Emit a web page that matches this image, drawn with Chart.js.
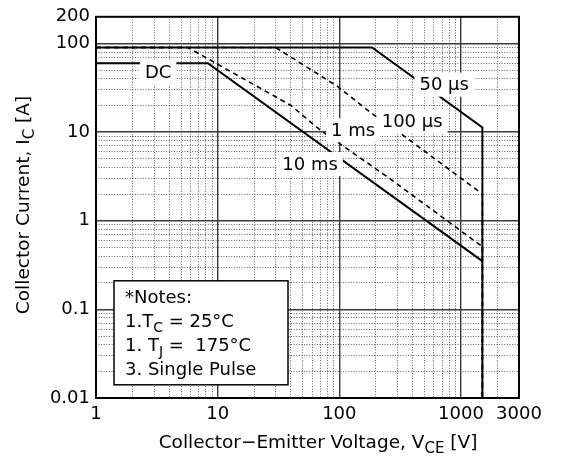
<!DOCTYPE html>
<html>
<head>
<meta charset="utf-8">
<script src="https://cdn.jsdelivr.net/npm/chart.js@4.4.0/dist/chart.umd.min.js"></script>
<style>
  html, body { margin: 0; padding: 0; background: #fff; }
</style>
</head>
<body>
<canvas id="soa" width="562" height="459"></canvas>
<script>
const FONT = '"DejaVu Sans", "Liberation Sans", Arial, sans-serif';
const FS = 18;

// tick labels
const xLabels = [1, 10, 100, 1000, 3000];
const yLabels = [0.01, 0.1, 1, 10, 100, 200];

// curves: V_CE [V] / I_C [A]
const dcV = [1, 8.3, 1500];
const dcI = [60, 60, 0.35];
const ms1V = [1, 5.7, 40, 70, 262, 1500, 1500];
const ms1I = [90, 90, 20, 10.5, 2.97, 0.51, 0.01];
const us100V = [1, 30, 96, 180, 335, 1500, 1500];
const us100I = [90, 90, 33, 16.7, 9.2, 2.0, 0.01];
const us50V = [1, 186, 1500, 1500];
const us50I = [90, 90, 11.3, 0.01];

// curve labels, anchored in data units
const curveText = ['DC', '10 ms', '1 ms', '100 \u03bcs', '50 \u03bcs'];
const curveV = [3.24, 57.5, 130, 397, 728];
const curveI = [46.7, 4.36, 10.5, 13.2, 34.3];

// grid positions for log decades (1..9 x 10^e)
function logGrid(lo, hi, extra) {
  const out = [];
  for (let e = lo; e < hi; e++)
    for (let m = 1; m < 10; m++) out.push(+(m * Math.pow(10, e)).toPrecision(3));
  return out.concat(extra);
}
const xGrid = logGrid(0, 3, [1000, 2000, 3000]);
const yGrid = logGrid(-2, 2, [100, 200]);

const isMajor = v => Math.abs(Math.log10(v) - Math.round(Math.log10(v))) < 1e-9;

function pts(xs, ys) { return xs.map((x, i) => ({ x: x, y: ys[i] })); }

// text with subscripts: parts = [[text, isSub], ...]
function richWidth(ctx, parts, size) {
  let w = 0;
  for (const [t, sub] of parts) {
    ctx.font = (sub ? Math.round(size * 0.8) : size) + 'px ' + FONT;
    w += ctx.measureText(t).width;
  }
  return w;
}
function drawRich(ctx, parts, x, y, size) {
  ctx.textAlign = 'left';
  ctx.textBaseline = 'alphabetic';
  for (const [t, sub] of parts) {
    ctx.font = (sub ? Math.round(size * 0.8) : size) + 'px ' + FONT;
    ctx.fillText(t, x, sub ? y + size * 0.28 : y);
    x += ctx.measureText(t).width;
  }
}

const decor = {
  id: 'decor',
  afterDatasetsDraw(chart) {
    const ctx = chart.ctx;
    const ca = chart.chartArea;
    const xs = chart.scales.x, ys = chart.scales.y;
    ctx.save();

    // curve labels on white boxes
    ctx.font = FS + 'px ' + FONT;
    ctx.textAlign = 'center';
    ctx.textBaseline = 'middle';
    curveText.forEach((t, i) => {
      const px = xs.getPixelForValue(curveV[i]);
      const py = ys.getPixelForValue(curveI[i]);
      const w = ctx.measureText(t).width;
      ctx.fillStyle = '#fff';
      ctx.fillRect(px - w / 2 - 5, py - 12, w + 10, 24);
      ctx.fillStyle = '#000';
      ctx.fillText(t, px, py + 1);
    });

    // notes box
    const bx = ca.left + 18, by = ca.top + 264, bw = 174, bh = 104;
    ctx.fillStyle = '#fff';
    ctx.fillRect(bx, by, bw, bh);
    ctx.strokeStyle = '#000';
    ctx.lineWidth = 1.5;
    ctx.strokeRect(bx, by, bw, bh);
    ctx.fillStyle = '#000';
    const lines = [
      [['*Notes:', false]],
      [['1.T', false], ['C', true], [' = 25\u00b0C', false]],
      [['1. T', false], ['J', true], [' =  175\u00b0C', false]],
      [['3. Single Pulse', false]]
    ];
    lines.forEach((p, i) => drawRich(ctx, p, bx + 11, by + 22 + i * 24, FS));

    // frame
    ctx.lineWidth = 2;
    ctx.strokeRect(ca.left, ca.top, ca.right - ca.left, ca.bottom - ca.top);

    // axis titles
    const xt = [['Collector\u2212Emitter Voltage, V', false], ['CE', true], [' [V]', false]];
    const xw = richWidth(ctx, xt, 18.5);
    drawRich(ctx, xt, 318 - xw / 2, 448, 18.5);

    const yt = [['Collector Current, I', false], ['C', true], [' [A]', false]];
    const yw = richWidth(ctx, yt, 18.5);
    ctx.translate(29, 205);
    ctx.rotate(-Math.PI / 2);
    drawRich(ctx, yt, -yw / 2, 0, 18.5);
    ctx.restore();
  }
};

const solid = { borderColor: '#000', borderWidth: 2, pointRadius: 0, fill: false, tension: 0 };
const dashed = Object.assign({}, solid, { borderWidth: 1.6, borderDash: [5, 4] });

const gridOpts = {
  color: c => (c.tick && isMajor(c.tick.value)) ? '#3a3a3a' : '#222',
  lineWidth: c => (c.tick && isMajor(c.tick.value)) ? 1.4 : 0.7,
  drawTicks: false
};
const borderOpts = {
  display: false,
  dash: c => (c.tick && !isMajor(c.tick.value)) ? [1, 1.6] : []
};

new Chart(document.getElementById('soa'), {
  type: 'line',
  data: {
    datasets: [
      Object.assign({ label: 'DC', data: pts(dcV, dcI) }, solid),
      Object.assign({ label: '1 ms', data: pts(ms1V, ms1I) }, dashed),
      Object.assign({ label: '100 us', data: pts(us100V, us100I) }, dashed),
      Object.assign({ label: '50 us', data: pts(us50V, us50I) }, solid)
    ]
  },
  options: {
    responsive: false,
    animation: false,
    layout: { padding: { top: 14, right: 43, left: 0, bottom: 0 } },
    plugins: { legend: { display: false }, tooltip: { enabled: false } },
    scales: {
      x: {
        type: 'logarithmic',
        min: 1, max: 3000,
        afterBuildTicks: s => { s.ticks = xGrid.map(v => ({ value: v })); },
        afterFit: s => { s.height = 61; },
        grid: gridOpts,
        border: borderOpts,
        ticks: {
          autoSkip: false, maxRotation: 0, padding: 6,
          color: '#000', font: { family: FONT, size: FS },
          callback: v => xLabels.includes(v) ? String(v) : ''
        }
      },
      y: {
        type: 'logarithmic',
        min: 0.01, max: 200,
        afterBuildTicks: s => { s.ticks = yGrid.map(v => ({ value: v })); },
        afterFit: s => { s.width = 96; },
        grid: gridOpts,
        border: borderOpts,
        ticks: {
          autoSkip: false, padding: 6,
          color: '#000', font: { family: FONT, size: FS },
          callback: v => yLabels.includes(v) ? String(v) : ''
        }
      }
    }
  },
  plugins: [decor]
});
</script>
</body>
</html>
